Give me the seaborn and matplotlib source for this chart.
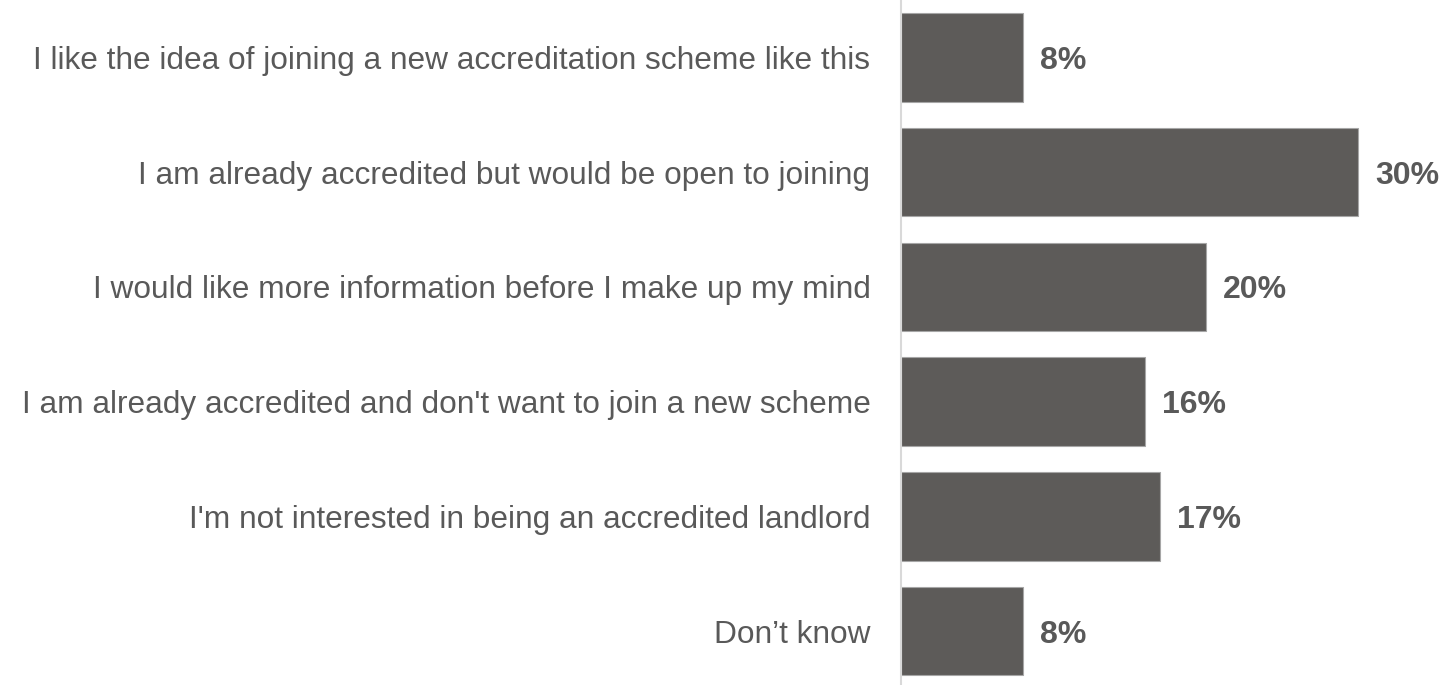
import matplotlib
matplotlib.use("Agg")
import matplotlib.pyplot as plt
import seaborn as sns
import pandas as pd

categories = [
    "I like the idea of joining a new accreditation scheme like this",
    "I am already accredited but would be open to joining",
    "I would like more information before I make up my mind",
    "I am already accredited and don't want to join a new scheme",
    "I'm not interested in being an accredited landlord",
    "Don\u2019t know",
]
values = [8, 30, 20, 16, 17, 8]
value_labels = ["8%", "30%", "20%", "16%", "17%", "8%"]

df = pd.DataFrame({"response": categories, "share": values})

sns.set_theme(style="white")
plt.rcParams["font.family"] = ["Liberation Sans", "DejaVu Sans"]

W, H = 1442, 685
fig = plt.figure(figsize=(W / 100, H / 100), dpi=100)
ax = fig.add_axes([901 / W, 0, 518 / W, 1])

sns.barplot(data=df, y="response", x="share", orient="h", order=categories,
            color="#5d5b59", saturation=1, width=0.77,
            edgecolor="#a6a6a6", linewidth=0.8, ax=ax)

ax.set_xlim(0, 34)
ax.set_ylim(5.47, -0.5)
ax.set_xlabel("")
ax.set_ylabel("")
ax.set_xticks([])
for s in ["top", "right", "bottom"]:
    ax.spines[s].set_visible(False)
ax.spines["left"].set_color("#d9d9d9")
ax.spines["left"].set_linewidth(1.5)
ax.tick_params(axis="y", length=0, pad=22, labelsize=22.8, labelcolor="#595959")

for i, (v, lab) in enumerate(zip(values, value_labels)):
    ax.annotate(lab, xy=(v, i), xytext=(12.5, -2.5), textcoords="offset points",
                ha="left", va="center", fontsize=23, fontweight="bold",
                color="#595959", annotation_clip=False)

fig.savefig("out.png", dpi=100, facecolor="white")
